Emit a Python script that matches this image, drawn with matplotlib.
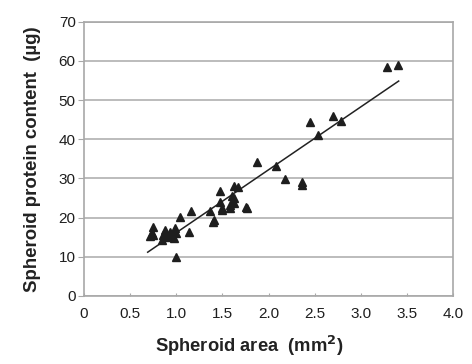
import matplotlib.pyplot as plt
import numpy as np

plt.rcParams['font.family'] = ['Liberation Sans', 'DejaVu Sans']

# spheroid area (mm2) and protein content (ug)
area = [0.72, 0.74, 0.75, 0.75, 0.84, 0.86, 0.88, 0.90, 0.93, 0.95, 0.97, 0.99,
        1.00, 1.00, 1.04, 1.14, 1.16, 1.37, 1.40, 1.41, 1.47, 1.47, 1.49, 1.49,
        1.58, 1.58, 1.60, 1.62, 1.62, 1.63, 1.67, 1.76, 1.77, 1.88, 2.08, 2.18,
        2.36, 2.36, 2.45, 2.54, 2.70, 2.79, 3.28, 3.40]
protein = [15.2, 16.0, 17.7, 15.5, 14.3, 15.6, 16.9, 15.0, 16.2, 15.5, 14.8, 17.3,
           16.0, 10.0, 20.1, 16.3, 21.8, 21.6, 19.0, 19.3, 24.0, 26.7, 22.4, 22.0,
           22.4, 23.3, 25.4, 23.7, 28.1, 25.0, 27.9, 22.7, 22.4, 34.3, 33.2, 29.9,
           29.2, 28.4, 44.3, 41.2, 45.9, 44.6, 58.5, 59.0]

# trend line as drawn in the figure (slope, intercept) and its x range
fit = [16.07, 0.08]
fit_range = [0.69, 3.41]

fig = plt.figure(figsize=(4.72, 3.64), dpi=100)
ax = fig.add_axes([0.178, 0.187, 0.782, 0.753])

ax.plot(area, protein, '^', color='#1e1e1e', markersize=5.8, zorder=3)
xfit = np.array(fit_range)
ax.plot(xfit, np.polyval(fit, xfit), color='#222222', lw=1.1, zorder=2)

ax.set_xlim(0, 4.0)
ax.set_ylim(0, 70)
ax.set_xticks(np.arange(0, 4.01, 0.5))
ax.set_xticklabels(['0', '0.5', '1.0', '1.5', '2.0', '2.5', '3.0', '3.5', '4.0'])
ax.set_yticks(np.arange(0, 71, 10))
ax.yaxis.grid(True, color='#b0b0b0', lw=1.2)
ax.set_axisbelow(True)
for s in ax.spines.values():
    s.set_color('#a8a8a8')
    s.set_linewidth(1.2)
ax.tick_params(axis='y', direction='out', length=4, color='#a8a8a8', labelsize=11,
               labelcolor='#1e1e1e', pad=2)
ax.tick_params(axis='x', direction='in', length=2, color='#a8a8a8', labelsize=11,
               labelcolor='#1e1e1e', pad=8)

ax.set_xlabel('Spheroid area  (mm$^\\mathbf{2}$)', fontsize=13.2, fontweight='bold',
              color='#222222', labelpad=9)
ax.xaxis.label.set_x(0.447)
ax.set_ylabel('Spheroid protein content  (µg)', fontsize=13.4, fontweight='bold',
              color='#222222', labelpad=13)

fig.savefig('out.png')
